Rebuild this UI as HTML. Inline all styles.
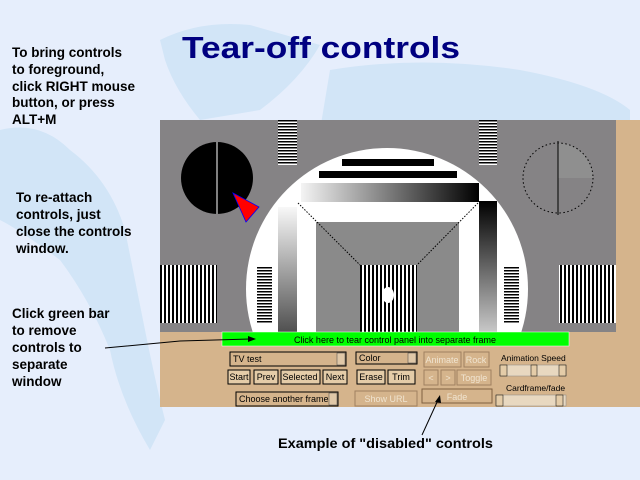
<!DOCTYPE html>
<html><head><meta charset="utf-8"><style>
html,body{margin:0;padding:0;width:640px;height:480px;overflow:hidden;background:#e6eefc}
svg{position:absolute;left:0;top:0}
text{font-family:"Liberation Sans",Arial,sans-serif}
</style></head><body>
<svg width="640" height="480" viewBox="0 0 640 480" xmlns="http://www.w3.org/2000/svg">
<defs>
<pattern id="hl" width="4" height="3" patternUnits="userSpaceOnUse"><rect width="4" height="3" fill="#fff"/><rect width="4" height="1.5" fill="#000"/></pattern>
<pattern id="vl" width="4" height="4" patternUnits="userSpaceOnUse"><rect width="4" height="4" fill="#fff"/><rect width="2" height="4" fill="#000"/></pattern>
<linearGradient id="gh" x1="0" x2="1"><stop offset="0" stop-color="#f4f4f4"/><stop offset="1" stop-color="#000"/></linearGradient>
<linearGradient id="gvR" x1="0" y1="0" x2="0" y2="1"><stop offset="0" stop-color="#000"/><stop offset="1" stop-color="#c8c8c8"/></linearGradient>
<linearGradient id="gvL" x1="0" y1="0" x2="0" y2="1"><stop offset="0" stop-color="#f8f8f8"/><stop offset="1" stop-color="#505050"/></linearGradient>
<clipPath id="cp"><rect x="160" y="120" width="456" height="212"/></clipPath>
</defs>
<g fill="#d2e5f7">
<path d="M160 40 Q200 20 250 25 L320 45 Q300 80 260 110 L200 120 Q175 90 165 60Z"/>
<path d="M330 70 Q420 55 520 70 Q600 85 630 110 L630 130 L320 130Z"/>
<path d="M0 130 Q40 120 70 150 Q110 180 125 230 Q135 280 145 330 Q155 380 165 420 L150 450 Q120 400 110 350 Q90 300 60 260 Q20 230 0 220Z"/>
</g>
<text x="182" y="58" font-size="31" font-weight="bold" fill="#000080" textLength="278" lengthAdjust="spacingAndGlyphs">Tear-off controls</text>
<g font-size="13.5" font-weight="bold" fill="#000">
<text x="12" y="57">To bring controls</text>
<text x="12" y="74">to foreground,</text>
<text x="12" y="91">click RIGHT mouse</text>
<text x="12" y="107">button, or press</text>
<text x="12" y="124">ALT+M</text>
<text x="16" y="202">To re-attach</text>
<text x="16" y="219">controls, just</text>
<text x="16" y="236">close the controls</text>
<text x="16" y="253">window.</text>
<text x="12" y="318">Click green bar</text>
<text x="12" y="335">to remove</text>
<text x="12" y="352">controls to</text>
<text x="12" y="369">separate</text>
<text x="12" y="386">window</text>
<text x="278" y="448" textLength="215" lengthAdjust="spacingAndGlyphs">Example of "disabled" controls</text>
</g>
<rect x="160" y="120" width="456" height="212" fill="#858385"/>
<rect x="616" y="120" width="24" height="287" fill="#d5b48c"/>
<g clip-path="url(#cp)">
<circle cx="387" cy="289" r="141" fill="#fff"/>
<rect x="342" y="159" width="92" height="7" fill="#000"/>
<rect x="319" y="171" width="138" height="7" fill="#000"/>
<rect x="301" y="183" width="178" height="19" fill="url(#gh)"/>
<rect x="479" y="201" width="18" height="131" fill="url(#gvR)"/>
<rect x="278" y="207" width="19" height="125" fill="url(#gvL)"/>
<rect x="316" y="222" width="143" height="110" fill="#8a8a8a"/>
<line x1="298" y1="203" x2="360" y2="265" stroke="#000" stroke-dasharray="1.5 1.5"/>
<line x1="478" y1="203" x2="417" y2="265" stroke="#000" stroke-dasharray="1.5 1.5"/>
<rect x="360" y="265" width="57" height="67" fill="url(#vl)"/>
<ellipse cx="388" cy="295" rx="6" ry="8" fill="#fff"/>
<rect x="160" y="265" width="57" height="58" fill="url(#vl)"/>
<rect x="559" y="265" width="57" height="58" fill="url(#vl)"/>
<rect x="257" y="266" width="15" height="57" fill="url(#hl)"/>
<rect x="504" y="266" width="15" height="57" fill="url(#hl)"/>
<rect x="278" y="120" width="19" height="45" fill="url(#hl)"/>
<rect x="479" y="120" width="18" height="45" fill="url(#hl)"/>
</g>
<circle cx="217" cy="178" r="36" fill="#000"/>
<line x1="217" y1="142" x2="217" y2="214" stroke="#fff" stroke-width="1"/>
<polygon points="233,193 259,207 246,222" fill="#f00" stroke="#00f" stroke-width="0.8"/>
<path d="M558 143 A35 35 0 0 1 593 178 L558 178Z" fill="#8f8f8f"/>
<circle cx="558" cy="178" r="35" fill="none" stroke="#000" stroke-dasharray="1.5 2.5"/>
<line x1="558" y1="141" x2="558" y2="215" stroke="#000" stroke-width="1"/>
<rect x="160" y="332" width="480" height="75" fill="#d5b48c"/>
<rect x="222" y="332" width="347" height="14" fill="#00ff00" stroke="#fff" stroke-width="0.5"/>
<text x="395" y="343" font-size="9" text-anchor="middle" fill="#000">Click here to tear control panel into separate frame</text>
<g font-size="9" fill="#000">
<rect x="230" y="352" width="116" height="14" fill="#d5b48c" stroke="#000"/><text x="233" y="362">TV test</text>
<rect x="337" y="353" width="8" height="12" fill="#e0c8a8" stroke="#444" stroke-width="0.5"/>
<rect x="228" y="370" width="22" height="14" fill="#e4cca8" stroke="#000"/><text x="239" y="380" text-anchor="middle">Start</text>
<rect x="254" y="370" width="24" height="14" fill="#e4cca8" stroke="#000"/><text x="266" y="380" text-anchor="middle">Prev</text>
<rect x="281" y="370" width="39" height="14" fill="#e4cca8" stroke="#000"/><text x="300" y="380" text-anchor="middle">Selected</text>
<rect x="323" y="370" width="24" height="14" fill="#e4cca8" stroke="#000"/><text x="335" y="380" text-anchor="middle">Next</text>
<rect x="236" y="392" width="102" height="14" fill="#d5b48c" stroke="#000"/><text x="239" y="402">Choose another frame</text>
<rect x="329" y="393" width="8" height="12" fill="#e0c8a8" stroke="#444" stroke-width="0.5"/>
<rect x="356" y="352" width="61" height="12" fill="#d5b48c" stroke="#000"/><text x="359" y="361">Color</text>
<rect x="408" y="353" width="8" height="10" fill="#e0c8a8" stroke="#444" stroke-width="0.5"/>
<rect x="357" y="370" width="28" height="14" fill="#e4cca8" stroke="#000"/><text x="371" y="380" text-anchor="middle">Erase</text>
<rect x="388" y="370" width="27" height="14" fill="#e4cca8" stroke="#000"/><text x="401" y="380" text-anchor="middle">Trim</text>
</g>
<g font-size="9" fill="#f0e4d0" stroke-width="1">
<rect x="355" y="391" width="62" height="15" fill="#d5b48c" stroke="#a08060"/><text x="386" y="402" text-anchor="middle">Show URL</text>
<rect x="424" y="352" width="37" height="15" fill="#d5b48c" stroke="#a08060"/><text x="442" y="363" text-anchor="middle">Animate</text>
<rect x="464" y="352" width="25" height="15" fill="#d5b48c" stroke="#a08060"/><text x="476" y="363" text-anchor="middle">Rock</text>
<rect x="424" y="370" width="14" height="15" fill="#d5b48c" stroke="#a08060"/><text x="431" y="381" text-anchor="middle">&lt;</text>
<rect x="441" y="370" width="14" height="15" fill="#d5b48c" stroke="#a08060"/><text x="448" y="381" text-anchor="middle">&gt;</text>
<rect x="457" y="370" width="34" height="15" fill="#d5b48c" stroke="#a08060"/><text x="474" y="381" text-anchor="middle">Toggle</text>
<rect x="422" y="389" width="70" height="14" fill="#d5b48c" stroke="#806040"/><text x="457" y="400" text-anchor="middle">Fade</text>
</g>
<g font-size="8.5" fill="#000">
<text x="501" y="361">Animation Speed</text>
<rect x="500" y="365" width="66" height="11" fill="#e8d8c0" stroke="#888" stroke-width="0.5"/>
<rect x="500" y="365" width="7" height="11" fill="#e4cca8" stroke="#000" stroke-width="0.5"/>
<rect x="559" y="365" width="7" height="11" fill="#e4cca8" stroke="#000" stroke-width="0.5"/>
<rect x="531" y="365" width="6" height="11" fill="#e4cca8" stroke="#000" stroke-width="0.5"/>
<text x="506" y="391">Cardframe/fade</text>
<rect x="496" y="395" width="70" height="11" fill="#e8d8c0" stroke="#888" stroke-width="0.5"/>
<rect x="496" y="395" width="7" height="11" fill="#e4cca8" stroke="#000" stroke-width="0.5"/>
<rect x="556" y="395" width="7" height="11" fill="#e4cca8" stroke="#000" stroke-width="0.5"/>
</g>
<polyline points="105,348 180,341 250,339" fill="none" stroke="#000" stroke-width="1"/>
<polygon points="256,339 248,336 248,342" fill="#000"/>
<line x1="422" y1="435" x2="438" y2="400" stroke="#000" stroke-width="1"/>
<polygon points="440,395 435,402 441,403" fill="#000"/>
</svg>
</body></html>
